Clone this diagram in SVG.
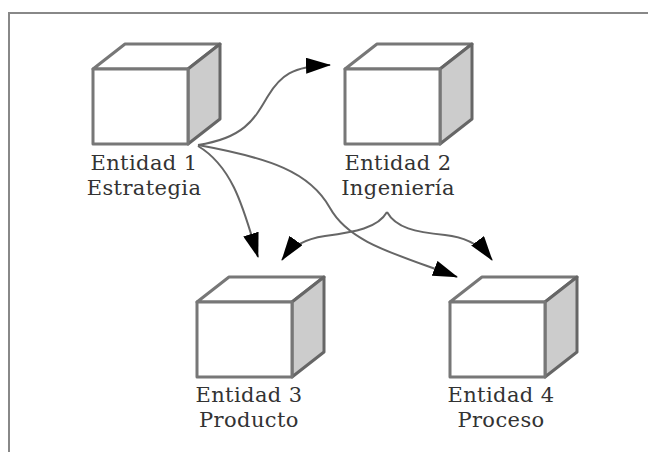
<svg xmlns="http://www.w3.org/2000/svg" width="648" height="452" viewBox="0 0 648 452">
  <style>
    .front { fill: #ffffff; stroke: #777777; stroke-width: 3; stroke-linejoin: round; }
    .top { fill: #ffffff; stroke: #777777; stroke-width: 3; stroke-linejoin: round; }
    .side { fill: #cccccc; stroke: #666666; stroke-width: 3; stroke-linejoin: round; }
    .label { font-family: "DejaVu Serif", "Liberation Serif", serif; font-size: 21px; letter-spacing: 0.4px; fill: #333333; text-anchor: middle; }
    .conn { fill: none; stroke: #666666; stroke-width: 2; marker-end: url(#arrow); }
    .frame { fill: none; stroke: #888888; stroke-width: 2; }
  </style>
  <defs>
    <marker id="arrow" viewBox="0 0 25 16" refX="24" refY="8" markerWidth="25" markerHeight="16" markerUnits="userSpaceOnUse" orient="auto">
      <path d="M0,0 L25,8 L0,16 z" fill="#000000"/>
    </marker>
    <g id="cube">
      <polygon class="top" points="0,25 32,0 127,0 95,25"/>
      <polygon class="side" points="95,25 127,0 127,75 95,100"/>
      <rect class="front" x="0" y="25" width="95" height="75"/>
    </g>
  </defs>
  <rect width="648" height="452" fill="#ffffff"/>
  <path class="frame" d="M9,460 L9,13 L660,13"/>

  <g id="entidad1">
    <use href="#cube" transform="translate(93,44)"/>
    <text class="label" x="144" y="170">Entidad 1</text>
    <text class="label" x="144" y="195">Estrategia</text>
  </g>
  <g id="entidad2">
    <use href="#cube" transform="translate(345,44)"/>
    <text class="label" x="398" y="170">Entidad 2</text>
    <text class="label" x="398" y="195">Ingeniería</text>
  </g>
  <g id="entidad3">
    <use href="#cube" transform="translate(197,277)"/>
    <text class="label" x="249" y="402">Entidad 3</text>
    <text class="label" x="249" y="427">Producto</text>
  </g>
  <g id="entidad4">
    <use href="#cube" transform="translate(450,277)"/>
    <text class="label" x="501" y="402">Entidad 4</text>
    <text class="label" x="501" y="427">Proceso</text>
  </g>

  <g id="connectors">
    <path class="conn" d="M198,145 C245,138 255,118 268,96 C280,76 292,66 330,65"/>
    <path class="conn" d="M198,146 C235,168 245,215 258,257"/>
    <path class="conn" d="M198,145 C270,158 310,172 330,208 C350,244 400,255 457,277"/>
    <path class="conn" d="M387,212 C378,228 355,232 325,236 C305,239 292,246 282,260"/>
    <path class="conn" d="M387,212 C396,228 415,232 445,235 C465,237 480,244 492,260"/>
  </g>
</svg>
